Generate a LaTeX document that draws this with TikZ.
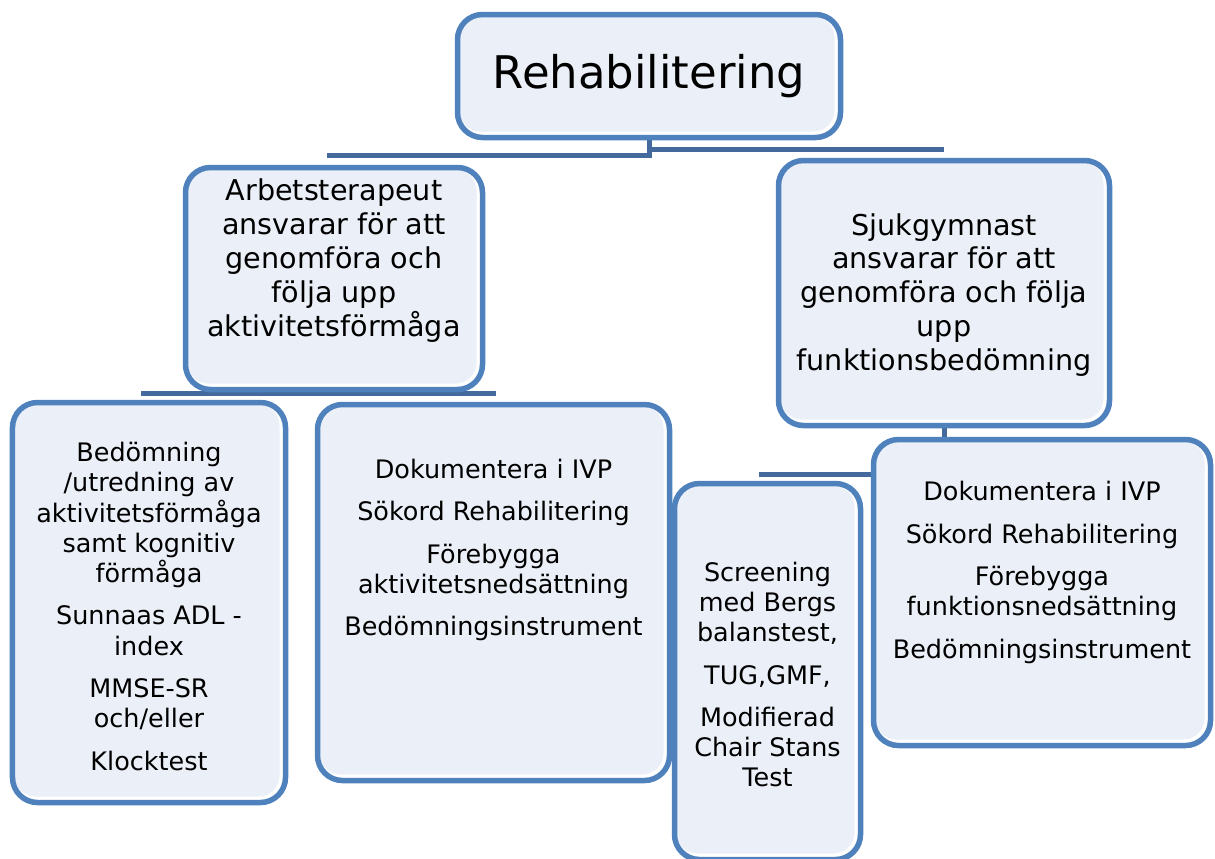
\documentclass[tikz,border=0pt]{standalone}
\usepackage{fontspec}
\setmainfont{DejaVu Sans}
\usepackage{tikz}
\usetikzlibrary{shapes,arrows,positioning}
\definecolor{boxblue}{HTML}{4F81BD}
\definecolor{boxfill}{HTML}{EBF0F8}
\definecolor{linkblue}{HTML}{44699C}
\pgfdeclarelayer{background}
\pgfsetlayers{background,main}
\tikzset{
  box/.style={rectangle, rounded corners=0.5cm, draw=boxblue, line width=0.11cm, fill=white,
    path picture={\fill[boxfill, rounded corners=0.42cm]
      ([shift={(0.04,-0.04)}]path picture bounding box.north west) rectangle
      ([shift={(-0.12,0.12)}]path picture bounding box.south east);}},
  link/.style={draw=linkblue, line width=0.1cm, line cap=rect},
  toptext/.style={inner sep=0pt, font=\fontsize{25.6}{30}\selectfont},
  midtext/.style={align=center, inner sep=0pt, font=\fontsize{16.3}{19.3}\selectfont},
  leaftext/.style={align=center, inner sep=0pt, font=\fontsize{14.5}{17.2}\selectfont}
}

\begin{document}
\begin{tikzpicture}
        \useasboundingbox (0,0) rectangle (24.3,-17.16);

        % Top node
        \node[box, minimum width=7.66cm, minimum height=2.46cm] (rehab) at (12.98,-1.52) {};
        \node[toptext] (rehabtext) at (rehab.center) {Rehabilitering};

        % Profession nodes
        \node[box, minimum width=5.94cm, minimum height=4.44cm] (ot) at (6.68,-5.57) {};
        \node[box, minimum width=6.62cm, minimum height=5.3cm] (pt) at (18.88,-5.86) {};
        \node[midtext] (ottext) at ([yshift=0.36cm]ot.center)
            {Arbetsterapeut\\ansvarar för att\\genomföra och\\följa upp\\aktivitetsförmåga};
        \node[midtext] (pttext) at ([yshift=-0.04cm]pt.center)
            {Sjukgymnast\\ansvarar för att\\genomföra och följa\\upp\\funktionsbedömning};

        % Task nodes
        \node[box, minimum width=5.46cm, minimum height=8.0cm] (ota) at (2.98,-12.05) {};
        \node[box, minimum width=7.04cm, minimum height=7.52cm] (otb) at (9.87,-11.85) {};
        \node[box, minimum width=3.72cm, minimum height=7.52cm] (pta) at (15.35,-13.43) {};
        \node[box, minimum width=6.74cm, minimum height=6.12cm] (ptb) at (20.84,-11.85) {};

        % Labels
        \node[leaftext] (otatext) at ([yshift=-0.08cm]ota.center)
            {Bedömning\\/utredning av\\aktivitetsförmåga\\samt kognitiv\\förmåga\\[7pt]
             Sunnaas ADL -\\index\\[7pt]MMSE-SR\\och/eller\\[7pt]Klocktest};
        \node[leaftext] (otbtext) at ([yshift=0.85cm]otb.center)
            {Dokumentera i IVP\\[7pt]Sökord Rehabilitering\\[7pt]Förebygga\\aktivitetsnedsättning\\[7pt]Bedömningsinstrument};
        \node[leaftext] (ptatext) at ([yshift=-0.06cm]pta.center)
            {Screening\\med Bergs\\balanstest,\\[7pt]TUG,GMF,\\[7pt]Modifierad\\Chair Stans\\Test};
        \node[leaftext] (ptbtext) at ([yshift=0.4cm]ptb.center)
            {Dokumentera i IVP\\[7pt]Sökord Rehabilitering\\[7pt]Förebygga\\funktionsnedsättning\\[7pt]Bedömningsinstrument};

        % Connections
        \coordinate (busl) at ([yshift=-0.3cm]rehab.south);
        \coordinate (busr) at ([yshift=-0.19cm]rehab.south);
        \coordinate (busot) at ([yshift=-0.02cm]ot.south);
        \coordinate (buspt) at ([yshift=-0.93cm]pt.south);
        \begin{pgfonlayer}{background}
        \draw[link] (rehab.south) -- (busl) -- ([xshift=-0.1cm]busl -| ot.north);
        \draw[link] (rehab.south) -- (busr) -- ([xshift=-0.05cm]busr -| pt.north);
        \draw[link] ([xshift=-0.12cm]busot -| ota.north) -- (busot -| otb.north);
        \draw[link] (pt.south) -- (buspt);
        \draw[link] ([xshift=-0.12cm]buspt -| pta.north) -- (buspt -| ptb.north);
        \end{pgfonlayer}
    \end{tikzpicture}
\end{document}
